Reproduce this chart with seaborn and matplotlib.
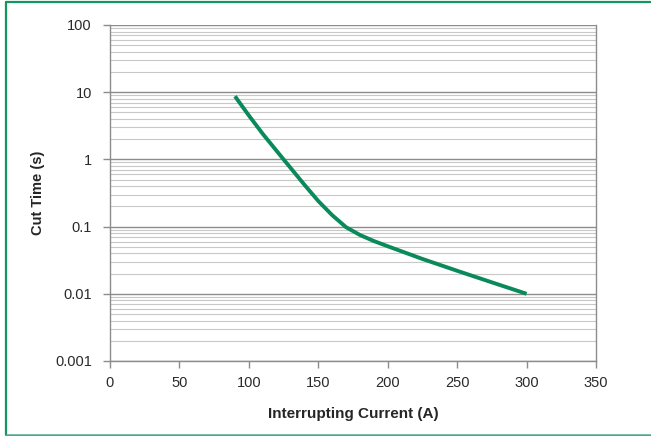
import numpy as np
import pandas as pd
import seaborn as sns
import matplotlib.pyplot as plt
from matplotlib.ticker import LogLocator, NullFormatter

# Courbe temps de coupure / courant
current = [90, 100, 110, 125, 140, 150, 160, 170, 180, 190, 200, 225, 250, 275, 300]
cut_time = [8.7, 4.5, 2.4, 1.0, 0.42, 0.24, 0.148, 0.098, 0.075, 0.061, 0.051,
            0.033, 0.022, 0.0148, 0.01]

x_ticks = [0, 50, 100, 150, 200, 250, 300, 350]
y_ticks = [0.001, 0.01, 0.1, 1, 10, 100]
y_labels = ["0.001", "0.01", "0.1", "1", "10", "100"]

df = pd.DataFrame({"current": current, "cut_time": cut_time})

sns.set_style("white")
plt.rcParams['font.family'] = ['Liberation Sans', 'DejaVu Sans']

fig = plt.figure(figsize=(6.51, 4.36), dpi=100)
ax = fig.add_axes([110 / 651, 75 / 436, 486 / 651, 336 / 436])

sns.lineplot(data=df, x="current", y="cut_time", ax=ax, color="#0a8a5a",
             linewidth=2.8, solid_capstyle="butt", zorder=5)

ax.set_yscale("log")
ax.set_xlim(0, 350)
ax.set_ylim(0.001, 100)

ax.set_xticks(x_ticks)
ax.set_xticklabels([str(t) for t in x_ticks])
ax.set_yticks(y_ticks)
ax.set_yticklabels(y_labels)
ax.yaxis.set_minor_locator(LogLocator(base=10, subs=np.arange(2, 10), numticks=20))
ax.yaxis.set_minor_formatter(NullFormatter())

# grille type Excel
ax.grid(which="major", axis="y", color="#8c8c8c", linewidth=1.0)
ax.grid(which="minor", axis="y", color="#c8c8c8", linewidth=0.8)
ax.grid(which="major", axis="x", visible=False)
ax.set_axisbelow(True)

for side in ["left", "bottom", "right"]:
    ax.spines[side].set_visible(True)
    ax.spines[side].set_color("#8c8c8c")
    ax.spines[side].set_linewidth(1.0)
ax.spines["top"].set_visible(False)

ax.tick_params(axis="both", which="major", length=5, width=1, color="#8c8c8c",
               labelsize=10.5, labelcolor="#2a2a2a", direction="out")
ax.tick_params(axis="y", which="minor", length=0)
ax.tick_params(axis="x", pad=6)
ax.tick_params(axis="y", pad=8)
ax.tick_params(left=True, bottom=True)

ax.set_xlabel("Interrupting Current (A)", fontsize=11, fontweight="bold", labelpad=12)
ax.set_ylabel("Cut Time (s)", fontsize=10.5, fontweight="bold", labelpad=7)

# cadre vert (gauche, haut, bas)
fig.add_artist(plt.Line2D([6 / 651, 6 / 651], [1 / 436, 434 / 436], transform=fig.transFigure,
                          color="#12975f", linewidth=1.6))
fig.add_artist(plt.Line2D([6 / 651, 1.0], [434 / 436, 434 / 436], transform=fig.transFigure,
                          color="#12975f", linewidth=1.6))
fig.add_artist(plt.Line2D([6 / 651, 1.0], [1.5 / 436, 1.5 / 436], transform=fig.transFigure,
                          color="#4fa889", linewidth=1.8))

plt.savefig("out.png", dpi=100)
